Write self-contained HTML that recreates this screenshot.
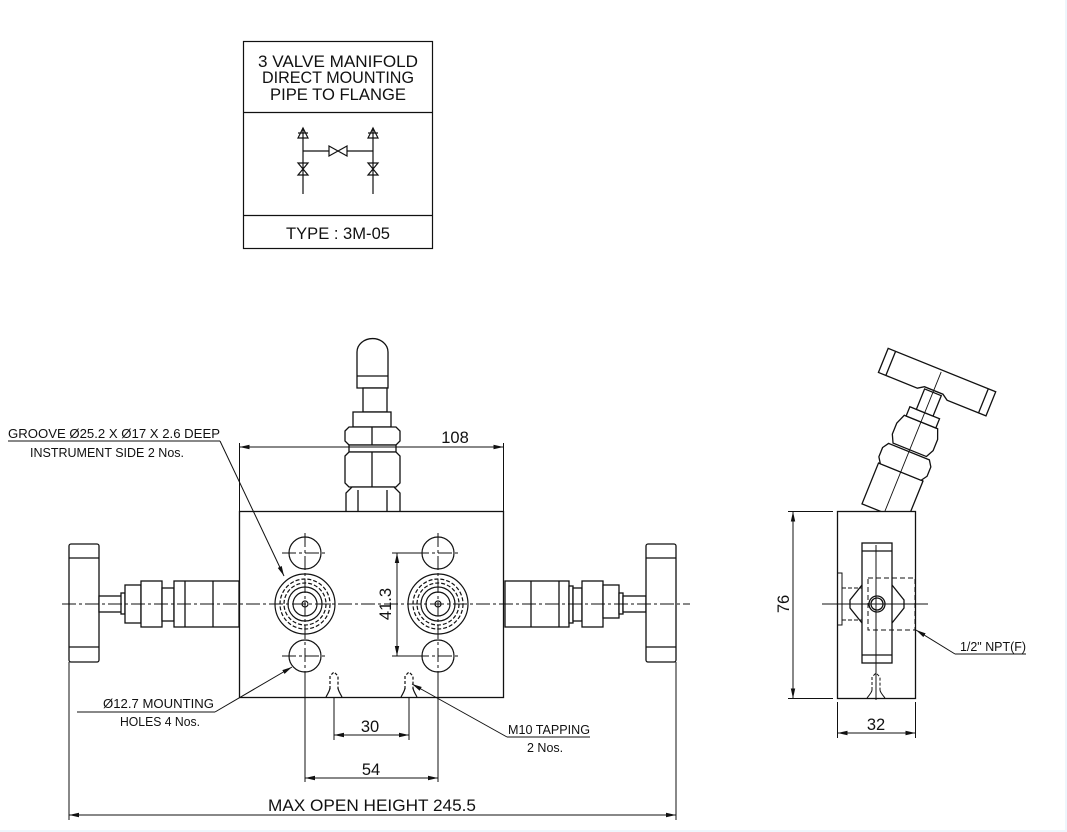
<!DOCTYPE html>
<html><head><meta charset="utf-8"><style>
html,body{margin:0;padding:0;background:#eef6fc;}
svg{display:block;}
text{font-family:"Liberation Sans",sans-serif;fill:#111;}
</style></head><body>
<svg width="1067" height="832" viewBox="0 0 1067 832" xmlns="http://www.w3.org/2000/svg">
<defs>
<marker id="ar" viewBox="0 0 10 6" refX="10" refY="3" markerWidth="10" markerHeight="6" orient="auto-start-reverse" markerUnits="userSpaceOnUse"><path d="M0,0.8 L10,3 L0,5.2z" fill="#111"/></marker>
</defs>
<rect x="0" y="0" width="1065" height="830" fill="#fff"/>
<g fill="none" stroke="#111" stroke-width="1.2">
<rect x="243.5" y="41.5" width="189" height="207"/>
<line x1="243" y1="112.5" x2="432" y2="112.5"/>
<line x1="243" y1="215.5" x2="432" y2="215.5"/>
<line x1="303" y1="128" x2="303" y2="194"/>
<line x1="373" y1="128" x2="373" y2="194"/>
<path d="M303,128 L298,138 L308,138Z M373,128 L368,138 L378,138Z"/>
<line x1="298" y1="133" x2="308" y2="133"/><line x1="368" y1="133" x2="378" y2="133"/>
<line x1="303" y1="151" x2="329" y2="151"/><line x1="347" y1="151" x2="373" y2="151"/>
<path d="M329,146 L347,156 L347,146 L329,156Z"/>
<path d="M298,163 L308,175 L298,175 L308,163Z M368,163 L378,175 L368,175 L378,163Z"/>
</g>
<g font-size="16.5" text-anchor="middle">
<text x="338" y="67" textLength="160" lengthAdjust="spacingAndGlyphs">3 VALVE MANIFOLD</text>
<text x="338" y="83" textLength="152" lengthAdjust="spacingAndGlyphs">DIRECT MOUNTING</text>
<text x="338" y="100" textLength="136" lengthAdjust="spacingAndGlyphs">PIPE TO FLANGE</text>
<text x="338" y="239" textLength="104" lengthAdjust="spacingAndGlyphs">TYPE : 3M-05</text>
</g>

<!-- FRONT VIEW -->
<g fill="#fff" stroke="#111" stroke-width="1.3">
<path d="M357,388 L357,352 A15,13 0 0 1 388,352 L388,388Z"/>
<line x1="357" y1="376" x2="388" y2="376"/>
<rect x="363" y="388" width="24" height="24"/>
<rect x="353" y="412" width="38" height="15"/>
<path d="M345,431 L349,427 L396,427 L400,431 L400,441 L396,445 L349,445 L345,441Z"/>
<line x1="372" y1="427" x2="372" y2="445"/>
<rect x="349" y="445" width="47" height="7"/>
<path d="M345,456 L349,452 L396,452 L400,456 L400,483 L396,487 L349,487 L345,483Z"/>
<line x1="372" y1="452" x2="372" y2="487"/>
<path d="M346,511 L346,493 L352,487 L394,487 L400,493 L400,511"/>
<line x1="358" y1="490" x2="358" y2="511"/><line x1="387" y1="490" x2="387" y2="511"/>
<rect x="69" y="544" width="30" height="118" rx="2"/>
<line x1="69" y1="558" x2="99" y2="558"/><line x1="69" y1="647" x2="99" y2="647"/>
<rect x="99" y="596" width="23" height="16"/>
<rect x="121" y="593" width="4" height="21"/>
<rect x="125" y="585" width="16" height="38"/>
<rect x="141" y="581" width="21" height="46"/>
<rect x="162" y="588" width="12" height="33"/>
<rect x="174" y="581" width="65" height="46"/>
<line x1="185" y1="581" x2="185" y2="627"/><line x1="213" y1="581" x2="213" y2="627"/>
<rect x="505" y="581" width="64" height="46"/>
<line x1="531" y1="581" x2="531" y2="627"/><line x1="559" y1="581" x2="559" y2="627"/>
<rect x="569" y="586" width="4" height="37"/>
<rect x="573" y="588" width="9" height="33"/>
<rect x="582" y="581" width="21" height="46"/>
<rect x="603" y="585" width="16" height="33"/>
<rect x="619" y="593" width="4" height="21"/>
<rect x="623" y="596" width="23" height="16"/>
<rect x="646" y="544" width="30" height="118" rx="2"/>
<line x1="646" y1="558" x2="676" y2="558"/><line x1="646" y1="647" x2="676" y2="647"/>
<rect x="239.5" y="511.5" width="264" height="186"/>
</g>
<g fill="none" stroke="#111" stroke-width="1.2">
<circle cx="305" cy="553" r="16"/><circle cx="438" cy="553" r="16"/>
<circle cx="305" cy="656" r="16"/><circle cx="438" cy="656" r="16"/>
<circle cx="305" cy="604" r="30"/><circle cx="438" cy="604" r="30"/>
<circle cx="305" cy="604" r="25" stroke-dasharray="4 2"/><circle cx="438" cy="604" r="25" stroke-dasharray="4 2"/>
<circle cx="305" cy="604" r="21" stroke-dasharray="4 2"/><circle cx="438" cy="604" r="21" stroke-dasharray="4 2"/>
<circle cx="305" cy="604" r="17"/><circle cx="438" cy="604" r="17"/>
<circle cx="305" cy="604" r="12"/><circle cx="438" cy="604" r="12"/>
<circle cx="305" cy="604" r="3"/><circle cx="438" cy="604" r="3"/>
<path d="M326,697 Q330,690 330,688 M342,697 Q338,690 338,688 M401,697 Q405,690 405,688 M417,697 Q413,690 413,688" />
<path d="M330,689 L330,676 L334,672 L338,676 L338,689 M405,689 L405,676 L409,672 L413,676 L413,689" stroke-dasharray="3 2"/>
</g>
<g stroke="#111" stroke-width="1" stroke-dasharray="14 3 3 3" fill="none">
<line x1="62" y1="604" x2="690" y2="604"/>
<line x1="305" y1="533" x2="305" y2="680"/>
<line x1="438" y1="533" x2="438" y2="680"/>
<line x1="282" y1="553" x2="328" y2="553"/><line x1="415" y1="553" x2="461" y2="553"/>
<line x1="282" y1="656" x2="328" y2="656"/><line x1="415" y1="656" x2="461" y2="656"/>
</g>
<g stroke="#111" stroke-width="1" fill="none">
<line x1="239.5" y1="443" x2="239.5" y2="511"/><line x1="503.5" y1="443" x2="503.5" y2="511"/>
<line x1="239.5" y1="447" x2="503.5" y2="447" marker-start="url(#ar)" marker-end="url(#ar)"/>
<line x1="392" y1="553" x2="420" y2="553"/><line x1="392" y1="656" x2="420" y2="656"/>
<line x1="397" y1="553" x2="397" y2="656" marker-start="url(#ar)" marker-end="url(#ar)"/>
<line x1="334" y1="697" x2="334" y2="740"/><line x1="409" y1="697" x2="409" y2="740"/>
<line x1="334" y1="735" x2="409" y2="735" marker-start="url(#ar)" marker-end="url(#ar)"/>
<line x1="305" y1="680" x2="305" y2="782"/><line x1="438" y1="680" x2="438" y2="782"/>
<line x1="305" y1="778" x2="438" y2="778" marker-start="url(#ar)" marker-end="url(#ar)"/>
<line x1="69" y1="662" x2="69" y2="820"/><line x1="676" y1="662" x2="676" y2="820"/>
<line x1="69" y1="815" x2="676" y2="815" marker-start="url(#ar)" marker-end="url(#ar)"/>
<line x1="8" y1="441" x2="220" y2="441"/>
<line x1="220" y1="441" x2="284" y2="576" marker-end="url(#ar)"/>
<line x1="77" y1="712" x2="215" y2="712"/>
<line x1="215" y1="712" x2="292" y2="667" marker-end="url(#ar)"/>
<line x1="507" y1="737" x2="590" y2="737"/>
<line x1="507" y1="737" x2="412" y2="684" marker-end="url(#ar)"/>
</g>
<g font-size="16.5" text-anchor="middle">
<text x="455" y="443">108</text>
<text x="370" y="732">30</text>
<text x="371" y="775">54</text>
<text x="372" y="811" textLength="208" lengthAdjust="spacingAndGlyphs">MAX OPEN HEIGHT 245.5</text>
<text transform="translate(391,604) rotate(-90)">41.3</text>
</g>
<g font-size="12.5">
<text x="8" y="438" textLength="212" lengthAdjust="spacingAndGlyphs">GROOVE  Ø25.2 X  Ø17 X 2.6 DEEP</text>
<text x="30" y="457" textLength="154" lengthAdjust="spacingAndGlyphs">INSTRUMENT SIDE 2 Nos.</text>
<text x="103" y="708" textLength="111" lengthAdjust="spacingAndGlyphs">Ø12.7 MOUNTING</text>
<text x="120" y="726" textLength="80" lengthAdjust="spacingAndGlyphs">HOLES 4 Nos.</text>
<text x="508" y="734" textLength="82" lengthAdjust="spacingAndGlyphs">M10 TAPPING</text>
<text x="527" y="752">2 Nos.</text>
<text x="960" y="651" textLength="66" lengthAdjust="spacingAndGlyphs">1/2" NPT(F)</text>
</g>

<!-- SIDE VIEW -->
<g transform="translate(885,511) rotate(22)" fill="#fff" stroke="#111" stroke-width="1.3">
<rect x="-24" y="-42" width="48" height="44"/>
<path d="M-24,-42 Q0,-48 24,-42"/>
<path d="M-26,-58 L-22,-64 L22,-64 L26,-58 L26,-48 L22,-42 L-22,-42 L-26,-48Z"/>
<path d="M-22,-86 L-18,-96 L18,-96 L22,-86 L22,-74 L18,-66 L-18,-66 L-22,-74Z"/>
<rect x="-16" y="-106" width="32" height="10"/>
<rect x="-9" y="-128" width="18" height="22"/>
<path d="M-58,-152 L58,-152 L58,-126 L16,-126 L10,-130 L-10,-130 L-16,-126 L-58,-126Z"/>
<line x1="-50" y1="-152" x2="-50" y2="-126"/><line x1="50" y1="-152" x2="50" y2="-126"/>
<line x1="0" y1="-150" x2="0" y2="20" stroke-width="0.9"/>
</g>
<g fill="#fff" stroke="#111" stroke-width="1.3">
<rect x="837.5" y="511.5" width="78" height="187"/>
<rect x="862" y="543" width="30" height="120"/>
<line x1="862" y1="551" x2="892" y2="551"/><line x1="862" y1="655" x2="892" y2="655"/>
<path d="M862,585 L850,600 L850,608 L862,623 M892,585 L904,600 L904,608 L892,623" fill="none"/>
<circle cx="877" cy="604" r="8"/>
<circle cx="877" cy="604" r="6" fill="none"/>
</g>
<g fill="none" stroke="#111" stroke-width="1">
<rect x="868" y="578" width="47" height="52" stroke-dasharray="5 3"/>
<path d="M837,573 L842,573 L842,625 L837,625"/>
<path d="M842,588 L862,588 M842,620 L862,620" stroke-dasharray="4 2"/>
<path d="M867,698 Q872,692 872,690 M885,698 Q880,692 880,690"/>
<path d="M872,690 L872,677 L876,673 L880,677 L880,690" stroke-dasharray="3 2"/>
<line x1="822" y1="604" x2="928" y2="604"/>
<line x1="876" y1="545" x2="876" y2="700"/>
<line x1="788" y1="511.5" x2="833" y2="511.5"/><line x1="788" y1="698.5" x2="833" y2="698.5"/>
<line x1="793" y1="511.5" x2="793" y2="698.5" marker-start="url(#ar)" marker-end="url(#ar)"/>
<line x1="837.5" y1="702" x2="837.5" y2="738"/><line x1="915.5" y1="702" x2="915.5" y2="738"/>
<line x1="837.5" y1="733" x2="915.5" y2="733" marker-start="url(#ar)" marker-end="url(#ar)"/>
<line x1="955" y1="654" x2="1026" y2="654"/>
<line x1="955" y1="654" x2="916" y2="630" marker-end="url(#ar)"/>
</g>
<g font-size="16.5" text-anchor="middle">
<text x="876" y="730">32</text>
<text transform="translate(789,604) rotate(-90)">76</text>
</g>
</svg>
</body></html>
